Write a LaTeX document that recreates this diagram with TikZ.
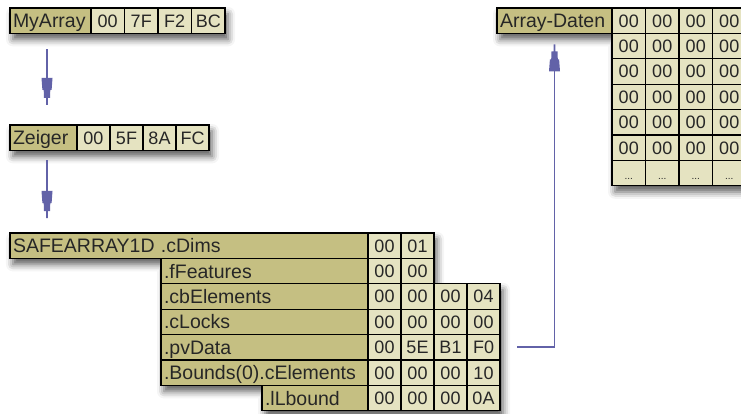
\documentclass[tikz,border=0pt]{standalone}
\usepackage{fontspec}
\setmainfont{Liberation Sans}
\usetikzlibrary{backgrounds, shadows.blur}

\definecolor{labfill}{RGB}{197,191,130}
\definecolor{hexfill}{RGB}{229,227,193}
\definecolor{linkblue}{RGB}{98,98,168}
\newcommand\labfont{\fontsize{19.5}{19.5}\selectfont}
\newcommand\hexfont{\fontsize{18}{18}\selectfont}
\newcommand\dotfont{\fontsize{10}{10}\selectfont}

% pointer tip: thin stem, narrow block, wide block
\pgfdeclarearrow{
  name = Tree,
  setup code = {
    \pgfarrowssettipend{0pt}
    \pgfarrowssetlineend{-25pt}
    \pgfarrowsupperhullpoint{0pt}{1pt}
    \pgfarrowsupperhullpoint{-27pt}{5.5pt}
  },
  drawing code = {
    \pgfpathmoveto{\pgfqpoint{0pt}{0.9pt}}
    \pgfpathlineto{\pgfqpoint{-7pt}{0.9pt}}
    \pgfpathlineto{\pgfqpoint{-7pt}{3pt}}
    \pgfpathlineto{\pgfqpoint{-15pt}{3.3pt}}
    \pgfpathlineto{\pgfqpoint{-15pt}{4.6pt}}
    \pgfpathlineto{\pgfqpoint{-27pt}{5.5pt}}
    \pgfpathlineto{\pgfqpoint{-27pt}{-5.5pt}}
    \pgfpathlineto{\pgfqpoint{-15pt}{-4.6pt}}
    \pgfpathlineto{\pgfqpoint{-15pt}{-3.3pt}}
    \pgfpathlineto{\pgfqpoint{-7pt}{-3pt}}
    \pgfpathlineto{\pgfqpoint{-7pt}{-0.9pt}}
    \pgfpathlineto{\pgfqpoint{0pt}{-0.9pt}}
    \pgfpathclose
    \pgfusepathqfill
  }
}

\tikzset{
  lab/.style={draw=black, line width=1.2pt, fill=labfill, anchor=north west, outer sep=0pt,
    minimum height=25.4pt, inner xsep=3pt, inner ysep=0pt, align=left, text=black!85,
    font=\labfont, text height=14pt, text depth=0pt},
  hex/.style={draw=black, line width=1.2pt, fill=hexfill, anchor=north west, outer sep=0pt,
    minimum width=33pt, minimum height=25.4pt, inner sep=0pt, text=black!85,
    font=\hexfont, text height=12.9pt, text depth=0pt},
  link/.style={color=linkblue, line width=1.8pt, -Tree},
  boxshadow/.style={blur shadow={shadow xshift=3pt, shadow yshift=-6pt, shadow blur radius=7pt, shadow opacity=65}}
}

\begin{document}
\begin{tikzpicture}[x=1pt, y=-1pt]
  \useasboundingbox (0,0) rectangle (741,414);

  % MyArray
  \node[lab, text width=75pt] (myarray) at (10,8) {MyArray};
  \foreach \v [count=\c] in {00,7F,F2,BC}
    \node[hex, minimum width=33.5pt] (m\c) at ({91+33.5*(\c-1)},8) {\v};

  % Zeiger
  \node[lab, text width=61pt] (zeiger) at (10,125) {Zeiger};
  \foreach \v [count=\c] in {00,5F,8A,FC}
    \node[hex] (z\c) at ({77+33*(\c-1)},125) {\v};

  % SAFEARRAY1D
  \node[lab, text width=352pt] (safe) at (10,233) {\makebox[148pt][l]{SAFEARRAY1D}.cDims};
  \node[lab, text width=201pt] (ff) at (161,258.4) {.fFeatures};
  \node[lab, text width=201pt] (cbe) at (161,283.8) {.cbElements};
  \node[lab, text width=201pt] (clk) at (161,309.2) {.cLocks};
  \node[lab, text width=201pt] (pvd) at (161,334.6) {.pvData};
  \node[lab, text width=201pt] (bnd) at (161,360) {.Bounds(0).cElements};
  \node[lab, text width=100pt] (lbd) at (262,385.4) {.lLbound};
  \foreach \v [count=\c] in {00,01}
    \node[hex] (s0\c) at ({368+33*(\c-1)},233) {\v};
  \foreach \v [count=\c] in {00,00}
    \node[hex] (s1\c) at ({368+33*(\c-1)},258.4) {\v};
  \foreach \v [count=\c] in {00,00,00,04}
    \node[hex] (s2\c) at ({368+33*(\c-1)},283.8) {\v};
  \foreach \v [count=\c] in {00,00,00,00}
    \node[hex] (s3\c) at ({368+33*(\c-1)},309.2) {\v};
  \foreach \v [count=\c] in {00,5E,B1,F0}
    \node[hex] (s4\c) at ({368+33*(\c-1)},334.6) {\v};
  \foreach \v [count=\c] in {00,00,00,10}
    \node[hex] (s5\c) at ({368+33*(\c-1)},360) {\v};
  \foreach \v [count=\c] in {00,00,00,0A}
    \node[hex] (s6\c) at ({368+33*(\c-1)},385.4) {\v};

  % Array-Daten
  \node[lab, text width=109pt] (daten) at (497,8) {Array-Daten};
  \foreach \r in {1,...,6}
    \foreach \c in {1,...,4}
      \node[hex, minimum width=33.5pt] (d\r\c) at ({612+33.5*(\c-1)},{8+25.4*(\r-1)}) {00};
  \foreach \c in {1,...,4}
    \node[hex, minimum width=33.5pt, font=\dotfont] (d7\c) at ({612+33.5*(\c-1)},160.4) {...};

  % shadows
  \begin{scope}[on background layer]
    \path[boxshadow] (myarray.north west) rectangle (m4.south east);
    \path[boxshadow] (zeiger.north west) rectangle (z4.south east);
    \path[boxshadow] (safe.north west) -- (s02.north east) -- (s12.south east) -- (s24.north east)
      -- (s64.south east) -- (lbd.south west) -- (lbd.north west) -- (bnd.south west)
      -- (ff.north west) -- (safe.south west) -- cycle;
    \path[boxshadow] (daten.north west) -- (d14.north east) -- (d74.south east) -- (d71.south west)
      -- (daten.south east) -- (daten.south west) -- cycle;
  \end{scope}

  % pointers
  \draw[link, shorten <=16pt, shorten >=20pt] ([xshift=37pt]myarray.south west) -- ([xshift=37pt]zeiger.north west);
  \draw[link, shorten <=10pt, shorten >=15pt] ([xshift=37pt]zeiger.south west) -- ([xshift=37pt]safe.north west);
  \draw[link, shorten <=17pt, shorten >=11pt] (s44.east) -| (daten.south);
\end{tikzpicture}
\end{document}
